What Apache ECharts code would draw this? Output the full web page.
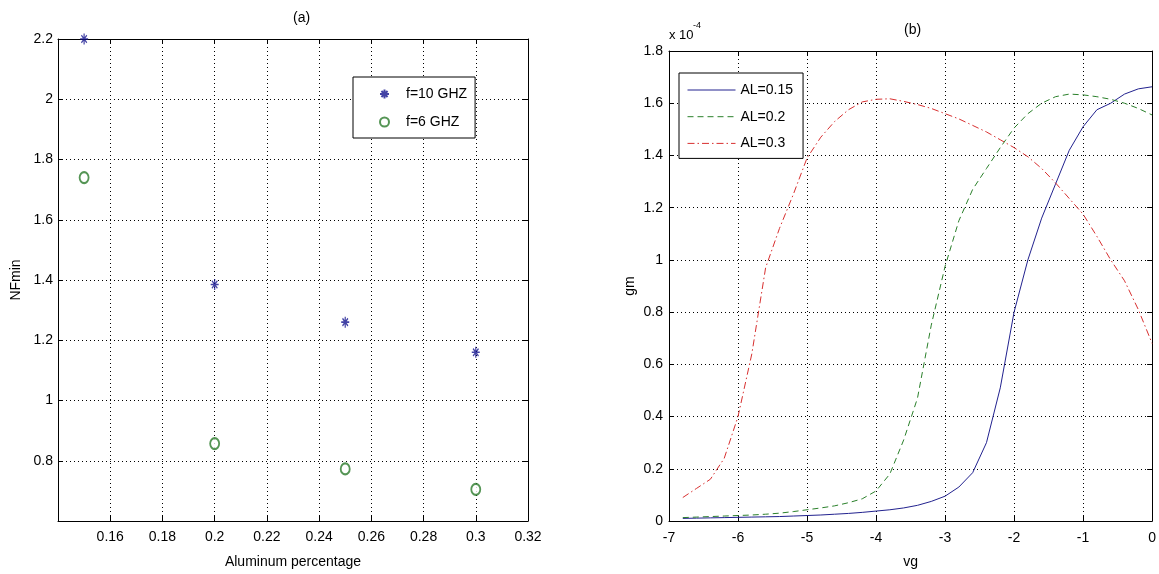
<!DOCTYPE html>
<html><head><meta charset="utf-8">
<script src="https://cdn.jsdelivr.net/npm/echarts@6/dist/echarts.min.js"></script>
<style>html,body{margin:0;padding:0;background:#fff}#c{width:1159px;height:574px}</style>
</head><body><div id="c"></div>
<script>
// ---- Panel (a) data ----
const alPct = [0.15, 0.2, 0.25, 0.3];
const nf10 = [2.2, 1.385, 1.26, 1.16];
const nf6 = [1.74, 0.857, 0.773, 0.705];
const seriesNamesA = ['f=10 GHZ', 'f=6 GHZ'];

// ---- Panel (b) data (gm in units of 1e-4) ----
const vg = [-6.8,-6.6,-6.4,-6.2,-6.0,-5.8,-5.6,-5.4,-5.2,-5.0,-4.8,-4.6,-4.4,-4.2,-4.0,-3.8,-3.6,-3.4,-3.2,-3.0,-2.8,-2.6,-2.4,-2.2,-2.0,-1.8,-1.6,-1.4,-1.2,-1.0,-0.8,-0.6,-0.4,-0.2,0];
const gm15 = [0.010,0.011,0.012,0.013,0.014,0.015,0.016,0.017,0.019,0.021,0.023,0.026,0.029,0.033,0.038,0.043,0.050,0.060,0.075,0.095,0.130,0.185,0.300,0.510,0.800,1.000,1.160,1.290,1.420,1.510,1.575,1.600,1.635,1.655,1.663];
const gm20 = [0.013,0.015,0.017,0.019,0.021,0.023,0.026,0.030,0.036,0.043,0.050,0.058,0.070,0.085,0.115,0.180,0.310,0.470,0.750,0.975,1.150,1.270,1.350,1.430,1.505,1.560,1.600,1.625,1.635,1.632,1.625,1.615,1.600,1.580,1.555];
const gm30 = [0.090,0.125,0.160,0.240,0.400,0.640,0.970,1.120,1.250,1.390,1.470,1.530,1.575,1.605,1.615,1.617,1.607,1.595,1.580,1.560,1.540,1.515,1.490,1.460,1.430,1.395,1.350,1.295,1.235,1.175,1.090,1.000,0.920,0.810,0.680];
const seriesNamesB = ['AL=0.15', 'AL=0.2', 'AL=0.3'];

const FONT = 'Liberation Sans, Arial, sans-serif';
const fmt = v => String(parseFloat(v.toFixed(4)));
const gridLine = {show: true, lineStyle: {color: '#000', width: 1, type: [1, 3]}};
const axLine = {show: true, onZero: false, lineStyle: {color: '#000', width: 1}};
const tickIn = {show: true, inside: true, length: 5, lineStyle: {color: '#000'}};
const lbl = (extra) => Object.assign({color: '#000', fontSize: 14, fontFamily: FONT, formatter: fmt}, extra || {});

const starPath = 'path://M5,0L5,10M0,5L10,5M1.6,1.6L8.4,8.4M1.6,8.4L8.4,1.6';

const chart = echarts.init(document.getElementById('c'), null, {renderer: 'canvas'});
chart.setOption({
  animation: false,
  backgroundColor: '#fff',
  textStyle: {fontFamily: FONT},
  grid: [
    {left: 58, top: 39, width: 470, height: 483},
    {left: 669, top: 51, width: 489, height: 472}
  ],
  xAxis: [
    {gridIndex: 0, type: 'value', position: 'bottom', min: 0.14, max: 0.32, interval: 0.02,
     axisLine: axLine, axisTick: tickIn, splitLine: gridLine,
     axisLabel: lbl({margin: 9, showMinLabel: false}),
     name: 'Aluminum percentage', nameLocation: 'middle', nameGap: 34,
     nameTextStyle: {color: '#000', fontSize: 14, fontFamily: FONT}},
    {gridIndex: 0, type: 'value', position: 'top', min: 0.14, max: 0.32, interval: 0.02,
     axisLine: axLine, axisTick: tickIn, splitLine: {show: false}, axisLabel: {show: false}},
    {gridIndex: 1, type: 'value', position: 'bottom', min: -7, max: 0, interval: 1,
     axisLine: axLine, axisTick: tickIn, splitLine: gridLine,
     axisLabel: lbl({margin: 10}),
     name: 'vg', nameLocation: 'middle', nameGap: 34,
     nameTextStyle: {color: '#000', fontSize: 14, fontFamily: FONT}},
    {gridIndex: 1, type: 'value', position: 'top', min: -7, max: 0, interval: 1,
     axisLine: axLine, axisTick: tickIn, splitLine: {show: false}, axisLabel: {show: false}}
  ],
  yAxis: [
    {gridIndex: 0, type: 'value', position: 'left', min: 0.6, max: 2.2, interval: 0.2,
     axisLine: axLine, axisTick: tickIn, splitLine: gridLine,
     axisLabel: lbl({margin: 5, showMinLabel: false}),
     name: 'NFmin', nameLocation: 'middle', nameGap: 35,
     nameTextStyle: {color: '#000', fontSize: 14, fontFamily: FONT}},
    {gridIndex: 0, type: 'value', position: 'right', min: 0.6, max: 2.2, interval: 0.2,
     axisLine: axLine, axisTick: tickIn, splitLine: {show: false}, axisLabel: {show: false}},
    {gridIndex: 1, type: 'value', position: 'left', min: 0, max: 1.8, interval: 0.2,
     axisLine: axLine, axisTick: tickIn, splitLine: gridLine,
     axisLabel: lbl({margin: 6}),
     name: 'gm', nameLocation: 'middle', nameGap: 32,
     nameTextStyle: {color: '#000', fontSize: 14, fontFamily: FONT}},
    {gridIndex: 1, type: 'value', position: 'right', min: 0, max: 1.8, interval: 0.2,
     axisLine: axLine, axisTick: tickIn, splitLine: {show: false}, axisLabel: {show: false}}
  ],
  legend: [
    {data: seriesNamesA, orient: 'vertical', left: 353, top: 77,
     padding: [10, 8, 9, 26], itemWidth: 9, itemHeight: 12, itemGap: 14,
     backgroundColor: '#fff', borderColor: '#000', borderWidth: 1,
     textStyle: {color: '#000', fontSize: 14, fontFamily: FONT, padding: [0, 0, 0, 12]}},
    {data: seriesNamesB, orient: 'vertical', left: 679, top: 73,
     padding: [10, 10, 8, 8], itemWidth: 48, itemHeight: 14, itemGap: 12.7,
     backgroundColor: '#fff', borderColor: '#000', borderWidth: 1,
     itemStyle: {opacity: 0}, lineStyle: {width: 1},
     textStyle: {color: '#000', fontSize: 14, fontFamily: FONT}}
  ],
  graphic: [
    {type: 'text', left: 293, top: 11, style: {text: '(a)', fill: '#000', font: '14px ' + FONT}},
    {type: 'text', left: 904, top: 23, style: {text: '(b)', fill: '#000', font: '14px ' + FONT}},
    {type: 'text', left: 669, top: 29, style: {text: 'x 10', fill: '#000', font: '13px ' + FONT}},
    {type: 'text', left: 693, top: 21, style: {text: '-4', fill: '#000', font: '9px ' + FONT}}
  ],
  series: [
    {name: seriesNamesA[0], type: 'scatter', xAxisIndex: 0, yAxisIndex: 0,
     symbol: starPath, symbolSize: [8, 11],
     itemStyle: {color: 'rgba(0,0,0,0)', borderColor: '#14148f', borderWidth: 1.4},
     data: alPct.map((x, i) => [x, nf10[i]])},
    {name: seriesNamesA[1], type: 'scatter', xAxisIndex: 0, yAxisIndex: 0,
     symbol: 'emptyCircle', symbolSize: [9, 11],
     itemStyle: {color: '#2a7a2a', borderColor: '#2a7a2a', borderWidth: 1},
     data: alPct.map((x, i) => [x, nf6[i]])},
    {name: seriesNamesB[0], type: 'line', xAxisIndex: 2, yAxisIndex: 2,
     showSymbol: false, symbol: 'none',
     itemStyle: {color: '#22228f'}, lineStyle: {color: '#22228f', width: 1, type: 'solid'},
     data: vg.map((x, i) => [x, gm15[i]])},
    {name: seriesNamesB[1], type: 'line', xAxisIndex: 2, yAxisIndex: 2,
     showSymbol: false, symbol: 'none',
     itemStyle: {color: '#2a802a'}, lineStyle: {color: '#2a802a', width: 1, type: [6, 4]},
     data: vg.map((x, i) => [x, gm20[i]])},
    {name: seriesNamesB[2], type: 'line', xAxisIndex: 2, yAxisIndex: 2,
     showSymbol: false, symbol: 'none',
     itemStyle: {color: '#d83030'}, lineStyle: {color: '#d83030', width: 1, type: [7, 3, 1.5, 3]},
     data: vg.map((x, i) => [x, gm30[i]])}
  ]
});
</script></body></html>
